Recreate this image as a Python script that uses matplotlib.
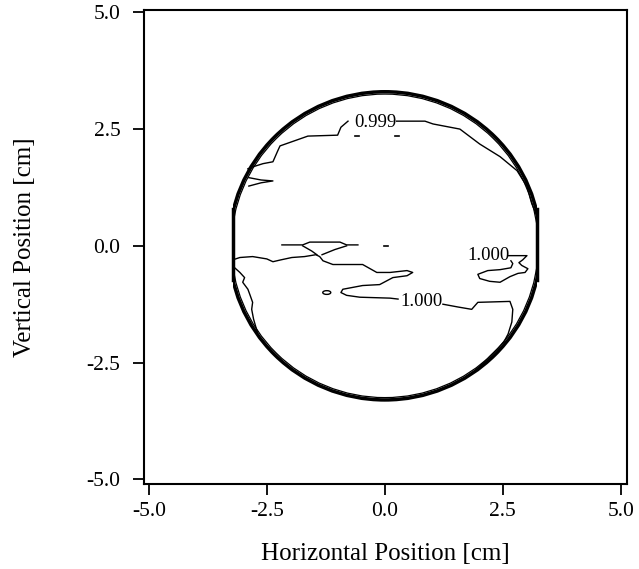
import matplotlib
matplotlib.use("Agg")
import matplotlib.pyplot as plt
from matplotlib.patches import Circle, Rectangle, Ellipse

plt.rcParams["font.family"] = ["Liberation Serif", "DejaVu Serif"]
plt.rcParams["axes.unicode_minus"] = False

# sample outline (cm)
edge_radius = 3.3
edge_flat_x = 3.22

# iso-line 0.999 along the top of the sample
top_x = [-2.90, -2.80, -2.58, -2.37, -2.27, -2.22, -1.63, -1.00, -0.93, -0.78]
top_y = [1.65, 1.69, 1.76, 1.80, 2.03, 2.14, 2.35, 2.37, 2.54, 2.67]
top_x2 = [0.25, 0.85, 1.02, 1.59, 2.01, 2.44, 2.80, 3.01, 3.11, 3.22]
top_y2 = [2.67, 2.67, 2.61, 2.50, 2.18, 1.91, 1.61, 1.27, 0.91, 0.64]

# small spike at the left rim
spike_x = [-2.88, -2.62, -2.37, -2.62, -2.88]
spike_y = [1.28, 1.35, 1.39, 1.41, 1.46]

# iso-line 1.000 running across the middle
mid_x = [-3.22, -3.07, -2.80, -2.50, -2.37, -2.20, -1.97, -1.70, -1.46, -1.38,
         -1.31, -1.10, -0.74, -0.47, -0.17, 0.11, 0.47, 0.59, 0.47, 0.17,
         -0.11, -0.47, -0.89, -0.93, -0.81, -0.53, 0.11, 0.28]
mid_y = [-0.30, -0.25, -0.23, -0.28, -0.34, -0.30, -0.25, -0.23, -0.19, -0.23,
         -0.32, -0.40, -0.40, -0.40, -0.57, -0.57, -0.53, -0.57, -0.64, -0.68,
         -0.83, -0.85, -0.93, -1.00, -1.06, -1.10, -1.12, -1.14]
mid_x2 = [1.23, 1.55, 1.84, 1.97, 2.65, 2.71, 2.69, 2.61, 2.52, 2.39, 2.22, 2.08, 1.93]
mid_y2 = [-1.25, -1.31, -1.36, -1.21, -1.19, -1.36, -1.63, -1.89, -2.06, -2.20, -2.37, -2.52, -2.65]

# thin lens near y = 0
lens_x = [-2.18, -1.74, -1.59, -0.95, -0.81, -0.57]
lens_y = [0.02, 0.02, 0.08, 0.08, 0.02, 0.02]
lens_lo1_x = [-1.74, -1.55, -1.44]
lens_lo1_y = [0.00, -0.11, -0.19]
lens_lo2_x = [-0.81, -1.06, -1.33]
lens_lo2_y = [0.00, -0.08, -0.19]

# closed 1.000 island on the right
isl_x = [2.61, 3.01, 2.92, 2.84, 2.90, 3.03, 2.97, 2.82, 2.65, 2.44, 2.22,
         2.01, 1.97, 2.18, 2.44, 2.67, 2.71, 2.67]
isl_y = [-0.21, -0.21, -0.30, -0.36, -0.42, -0.49, -0.57, -0.59, -0.66, -0.78, -0.76,
         -0.70, -0.61, -0.53, -0.51, -0.47, -0.38, -0.32]

# inner rim line, lower left
rim_x = [-3.18, -3.07, -2.97, -3.01, -2.90, -2.86, -2.80, -2.82, -2.78, -2.70]
rim_y = [-0.47, -0.57, -0.68, -0.78, -0.93, -1.04, -1.21, -1.36, -1.57, -1.85]

# tiny closed contours
dots_x = [-0.59, 0.25, 0.02]
dots_y = [2.35, 2.35, 0.0]
oval_center = (-1.23, -1.00)

# contour labels
label_text = ["0.999", "1.000", "1.000"]
label_x = [-0.21, 0.78, 2.20]
label_y = [2.65, -1.19, -0.21]

fig = plt.figure(figsize=(6.39, 5.69), dpi=100)
fig.patch.set_facecolor("white")
ax = fig.add_axes([0.2254, 0.1494, 0.7559, 0.833])

lw = 1.0
clip = Rectangle((-edge_flat_x, -4), 2 * edge_flat_x, 8, transform=ax.transData)
for r, w in [(edge_radius, 2.5), (edge_radius - 0.05, 0.9)]:
    c = Circle((0, 0), r, fill=False, color="black", linewidth=w)
    ax.add_patch(c)
    c.set_clip_path(clip)
for sx in (-edge_flat_x, edge_flat_x):
    ax.plot([sx, sx], [-0.74, 0.78], color="black", linewidth=2.5)

for xs, ys in [(top_x, top_y), (top_x2, top_y2), (spike_x, spike_y),
               (mid_x, mid_y), (mid_x2, mid_y2), (lens_x, lens_y),
               (lens_lo1_x, lens_lo1_y), (lens_lo2_x, lens_lo2_y),
               (isl_x, isl_y), (rim_x, rim_y)]:
    ax.plot(xs, ys, color="black", linewidth=lw)

for dx, dy in zip(dots_x, dots_y):
    ax.plot([dx - 0.04, dx + 0.04], [dy, dy], color="black", linewidth=1.2)
ax.add_patch(Ellipse(oval_center, 0.17, 0.08, fill=False, color="black", linewidth=lw))

for t, lx, ly in zip(label_text, label_x, label_y):
    ax.text(lx, ly, t, ha="center", va="center", fontsize=13.5)

ax.set_xlim(-5.1, 5.13)
ax.set_ylim(-5.1, 5.05)
ticks = [-5.0, -2.5, 0.0, 2.5, 5.0]
ax.set_xticks(ticks)
ax.set_yticks(ticks)
ax.set_xticklabels([f"{t:.1f}" for t in ticks])
ax.set_yticklabels([f"{t:.1f}" for t in ticks])
ax.tick_params(direction="out", length=8, width=1.3, labelsize=15.5)
ax.tick_params(axis="x", pad=5)
ax.tick_params(axis="y", pad=9)
for s in ax.spines.values():
    s.set_linewidth(1.5)

ax.set_xlabel("Horizontal Position [cm]", fontsize=18, labelpad=16)
ax.set_ylabel("Vertical Position [cm]", fontsize=18, labelpad=36)

fig.savefig("out.png", dpi=100)
